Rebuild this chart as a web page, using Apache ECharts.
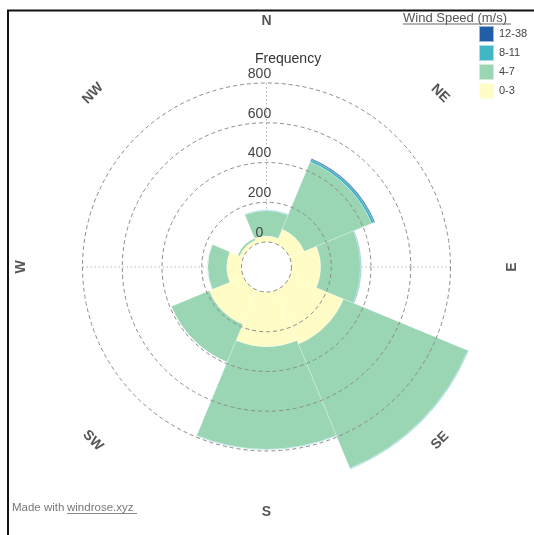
<!DOCTYPE html>
<html>
<head>
<meta charset="utf-8">
<script src="https://cdn.jsdelivr.net/npm/echarts@6/dist/echarts.min.js"></script>
<style>html,body{margin:0;padding:0;background:#fff}#c{width:534px;height:535px}</style>
</head>
<body>
<div id="c"></div>
<script>
// ---- data ----
const directions = ['N', 'NE', 'E', 'SE', 'S', 'SW', 'W', 'NW'];
const speedBins = ['0-3', '4-7', '8-11', '12-38'];
const speed0_3 = [30, 80, 146, 294, 275, 186, 74, 20];
const speed4_7 = [128, 367, 201, 677, 517, 207, 96, 12];
const speed8_11 = [3, 13, 4, 4, 3, 1, 1, 0];
const speed12_38 = [0, 5, 1, 0, 0, 0, 0, 0];
const radialTicks = [0, 200, 400, 600, 800];

// ---- layout / style ----
const FONT = '"Liberation Sans", Arial, Helvetica, sans-serif';
const R0 = 25, R1 = 184;
const RMAX = radialTicks[radialTicks.length - 1];
const RSTEP = radialTicks[1] - radialTicks[0];
const LABEL_R = (245.5 - R0) / (R1 - R0) * RMAX;
const binColors = { '0-3': '#fffcc6', '4-7': '#9ad5b4', '8-11': '#41b6c4', '12-38': '#225ea8' };
const binData = { '0-3': speed0_3, '4-7': speed4_7, '8-11': speed8_11, '12-38': speed12_38 };

function dirRotate(i) {
  let a = (i * 360 / directions.length) % 180;
  if (a >= 90) a -= 180;
  return -a;
}

const chart = echarts.init(document.getElementById('c'), null, { renderer: 'canvas' });

const barSeries = speedBins.map(b => ({
  type: 'bar',
  coordinateSystem: 'polar',
  name: b,
  stack: 'wind',
  data: binData[b],
  barCategoryGap: '0%',
  clip: false,
  z: 2,
  itemStyle: { color: binColors[b], borderColor: 'rgba(255,255,255,0.55)', borderWidth: 0.5 },
  emphasis: { disabled: true }
}));

// dashed grid circles drawn above the bars, radii from the radius axis scale
const gridSeries = {
  type: 'custom',
  coordinateSystem: 'polar',
  silent: true,
  z: 8,
  data: radialTicks.map(v => [v, 0]),
  renderItem: (params, api) => {
    const cs = params.coordSys;
    const p = api.coord([api.value(0), 0]);
    const r = Math.hypot(p[0] - cs.cx, p[1] - cs.cy);
    return {
      type: 'circle',
      shape: { cx: cs.cx, cy: cs.cy, r: r },
      style: { fill: null, stroke: '#8c8c8c', lineWidth: 1, lineDash: [4, 3] }
    };
  }
};

const labelSeries = {
  type: 'scatter',
  coordinateSystem: 'polar',
  clip: false,
  silent: true,
  z: 3,
  symbolSize: 0.001,
  itemStyle: { color: 'transparent' },
  data: directions.map((d, i) => ({ value: [LABEL_R, i], label: { rotate: dirRotate(i) } })),
  label: {
    show: true,
    position: 'inside',
    formatter: p => directions[p.dataIndex],
    fontFamily: FONT,
    fontSize: 14,
    fontWeight: 'bold',
    color: '#2a2a2a'
  }
};

chart.setOption({
  animation: false,
  backgroundColor: '#fff',
  title: {
    text: 'Frequency',
    left: 255,
    top: 52,
    padding: 0,
    textStyle: { fontFamily: FONT, fontSize: 14, fontWeight: 'normal', color: '#333' }
  },
  legend: {
    data: speedBins.slice().reverse(),
    orient: 'vertical',
    left: 478,
    top: 25,
    padding: 0,
    itemWidth: 15,
    itemHeight: 16,
    itemGap: 1,
    icon: 'rect',
    selectedMode: false,
    textStyle: { fontFamily: FONT, fontSize: 11, color: '#444' }
  },
  polar: { center: [266.5, 267], radius: [R0, R1] },
  angleAxis: {
    type: 'category',
    data: directions,
    startAngle: 90,
    clockwise: true,
    boundaryGap: false,
    axisLine: { show: false },
    axisTick: { show: false },
    axisLabel: { show: false },
    splitLine: {
      show: true,
      lineStyle: { type: [1.5, 2.5], color: ['#b5b5b5', 'rgba(0,0,0,0)'], width: 1 }
    },
    z: 0
  },
  radiusAxis: {
    type: 'value',
    min: 0,
    max: RMAX,
    interval: RSTEP,
    z: 10,
    axisLine: { show: false },
    axisTick: { show: false },
    axisLabel: {
      show: true,
      fontFamily: FONT,
      fontSize: 14,
      color: '#444',
      align: 'center',
      verticalAlign: 'bottom',
      margin: 7,
      padding: [0, 0, 2, 0]
    },
    splitLine: { show: false }
  },
  series: barSeries.concat([gridSeries, labelSeries]),
  graphic: [
    { type: 'polyline', shape: { points: [[8, 540], [8, 10.5], [540, 10.5]] }, style: { stroke: '#111', lineWidth: 2, fill: null }, z: 100 },
    { type: 'text', left: 403, top: 12, style: { text: 'Wind Speed (m/s)', font: '13px ' + FONT, fill: '#555' } },
    { type: 'line', shape: { x1: 403, y1: 24, x2: 511, y2: 24 }, style: { stroke: '#666', lineWidth: 1 } },
    { type: 'text', left: 12, top: 502, style: { text: 'Made with ', font: '11.5px ' + FONT, fill: '#777' } },
    { type: 'text', left: 67, top: 502, style: { text: 'windrose.xyz', font: '11.5px ' + FONT, fill: '#777' } },
    { type: 'line', shape: { x1: 67, y1: 513.5, x2: 137, y2: 513.5 }, style: { stroke: '#888', lineWidth: 1 } }
  ]
});
</script>
</body>
</html>
